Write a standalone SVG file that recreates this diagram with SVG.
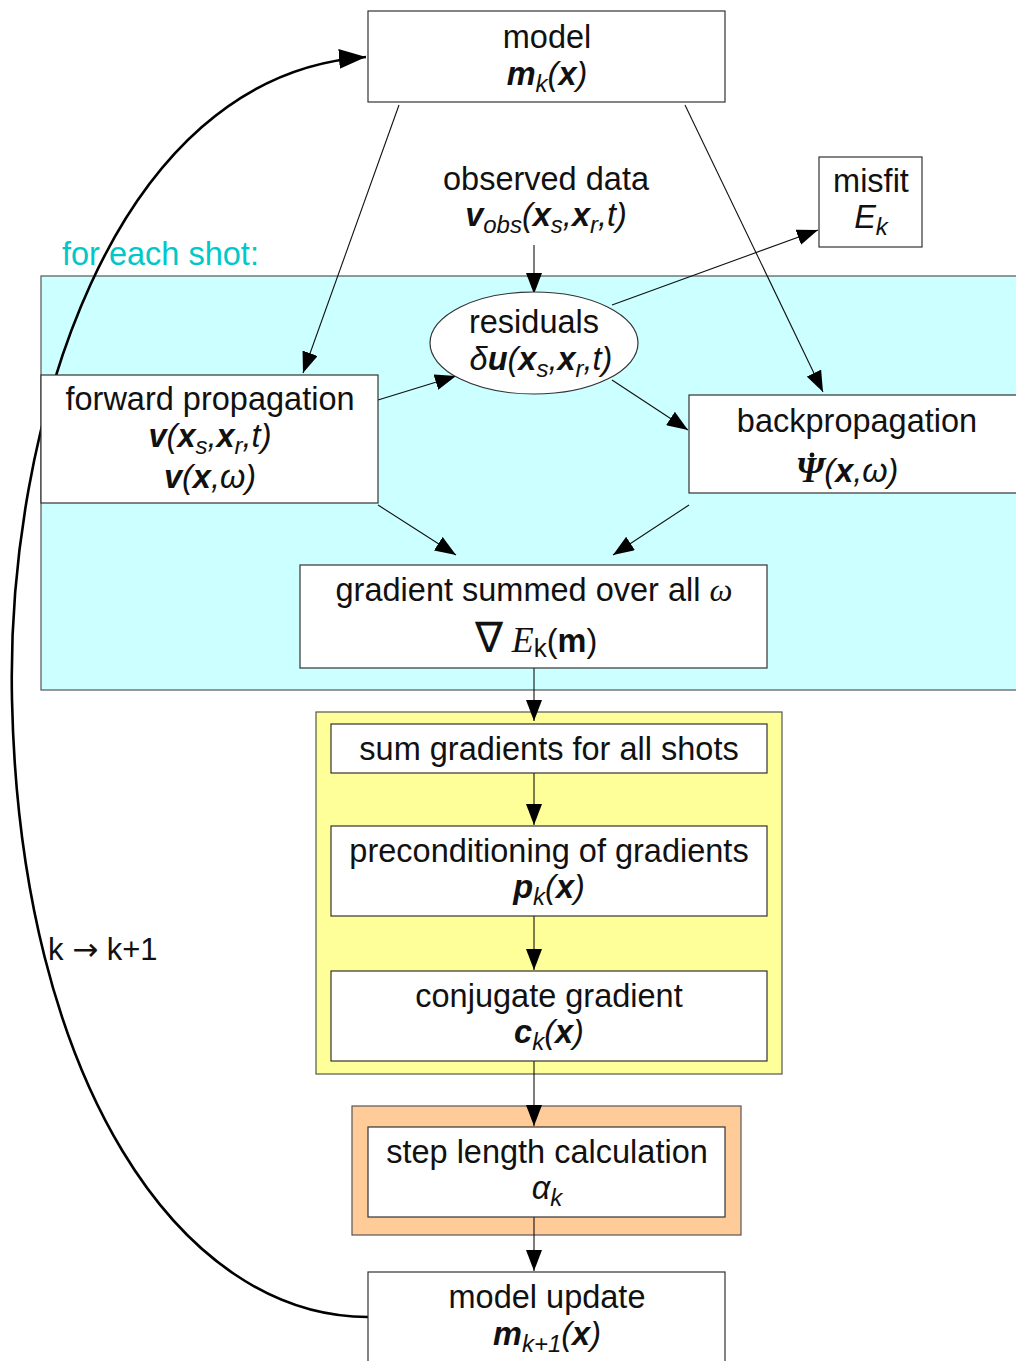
<svg xmlns="http://www.w3.org/2000/svg" width="1016" height="1361" viewBox="0 0 1016 1361">
<style>
.t{font-family:"Liberation Sans",Arial,sans-serif;font-size:32.5px;fill:#111;text-anchor:middle}
.bi{font-weight:bold;font-style:italic}
.i{font-style:italic}
.sub{font-size:24px;font-style:italic}
.box{fill:#fff;stroke:#333;stroke-width:1.2}
.c{fill:none;stroke:#111;stroke-width:1.1}
.serif{font-family:"Liberation Serif","Times New Roman",serif}
</style>
<defs>
<marker id="ah" markerUnits="userSpaceOnUse" markerWidth="22" markerHeight="16" refX="21" refY="8" orient="auto"><path d="M0,0 L21,8 L0,16 z" fill="#000"/></marker>
<marker id="ahb" markerUnits="userSpaceOnUse" markerWidth="28" markerHeight="20" refX="27" refY="10" orient="auto"><path d="M0,0 L27,10 L0,20 z" fill="#000"/></marker>
</defs>
<rect width="1016" height="1361" fill="#fff"/>
<g id="shot-region">
<rect x="41" y="276" width="985" height="414" fill="#ccffff" stroke="#555" stroke-width="1.2"/>
</g>
<g id="iteration-region">
<rect x="316" y="712" width="466" height="362" fill="#ffff99" stroke="#555" stroke-width="1.2"/>
</g>
<g id="step-region">
<rect x="352" y="1106" width="389" height="129" fill="#ffcc99" stroke="#555" stroke-width="1.2"/>
</g>
<text x="62" y="265" style="font-family:'Liberation Sans',Arial,sans-serif;font-size:32.5px;fill:#00c8c8">for each shot:</text>
<g id="connectors">
<path class="c" d="M399,105 L303,373" marker-end="url(#ah)"/>
<path class="c" d="M685,105 L823,392" marker-end="url(#ah)"/>
<path class="c" d="M534,245 L534,294" marker-end="url(#ah)"/>
<path class="c" d="M612,305 L818,230" marker-end="url(#ah)"/>
<path class="c" d="M378,400 L456,376" marker-end="url(#ah)"/>
<path class="c" d="M612,380 L688,430" marker-end="url(#ah)"/>
<path class="c" d="M378,505 L456,555" marker-end="url(#ah)"/>
<path class="c" d="M689,505 L613,555" marker-end="url(#ah)"/>
<path class="c" d="M534,668 L534,721" marker-end="url(#ah)"/>
<path class="c" d="M534,773 L534,825" marker-end="url(#ah)"/>
<path class="c" d="M534,916 L534,970" marker-end="url(#ah)"/>
<path class="c" d="M534,1061 L534,1126" marker-end="url(#ah)"/>
<path class="c" d="M534,1217 L534,1271" marker-end="url(#ah)"/>
<path d="M368,1317 C180,1317 20,1080 12,700 C6,430 110,75 366,57" fill="none" stroke="#000" stroke-width="2.6" marker-end="url(#ahb)"/>
</g>
<text class="t" x="48" y="960" style="text-anchor:start;font-size:31px">k <tspan style="font-family:'DejaVu Sans',sans-serif;font-size:31px">→</tspan> k+1</text>
<g id="model">
<rect class="box" x="368" y="11" width="357" height="91"/>
<text class="t" x="547" y="48">model</text>
<text class="t" x="547" y="85"><tspan class="bi">m</tspan><tspan class="sub" dy="7">k</tspan><tspan class="i" dy="-7">(</tspan><tspan class="bi">x</tspan><tspan class="i">)</tspan></text>
</g>
<g id="observed">
<text class="t" x="546" y="190">observed data</text>
<text class="t" x="546" y="226"><tspan class="bi">v</tspan><tspan class="sub" dy="7">obs</tspan><tspan class="i" dy="-7">(</tspan><tspan class="bi">x</tspan><tspan class="sub" dy="7">s</tspan><tspan class="i" dy="-7">,</tspan><tspan class="bi">x</tspan><tspan class="sub" dy="7">r</tspan><tspan class="i" dy="-7">,t)</tspan></text>
</g>
<g id="misfit">
<rect class="box" x="819" y="157" width="103" height="90"/>
<text class="t" x="871" y="192">misfit</text>
<text class="t" x="871" y="228"><tspan class="i">E</tspan><tspan class="sub" dy="7">k</tspan></text>
</g>
<g id="residuals">
<ellipse cx="534" cy="343" rx="104" ry="51" fill="#fff" stroke="#333" stroke-width="1.2"/>
<text class="t" x="534" y="333">residuals</text>
<text class="t" x="541" y="370"><tspan class="i">δ</tspan><tspan class="bi">u</tspan><tspan class="i">(</tspan><tspan class="bi">x</tspan><tspan class="sub" dy="7">s</tspan><tspan class="i" dy="-7">,</tspan><tspan class="bi">x</tspan><tspan class="sub" dy="7">r</tspan><tspan class="i" dy="-7">,t)</tspan></text>
</g>
<g id="forward">
<rect class="box" x="41" y="375" width="337" height="128"/>
<text class="t" x="210" y="410">forward propagation</text>
<text class="t" x="210" y="447"><tspan class="bi">v</tspan><tspan class="i">(</tspan><tspan class="bi">x</tspan><tspan class="sub" dy="7">s</tspan><tspan class="i" dy="-7">,</tspan><tspan class="bi">x</tspan><tspan class="sub" dy="7">r</tspan><tspan class="i" dy="-7">,t)</tspan></text>
<text class="t" x="210" y="488"><tspan class="bi">v</tspan><tspan class="i">(</tspan><tspan class="bi">x</tspan><tspan class="i">,ω)</tspan></text>
</g>
<g id="backprop">
<rect class="box" x="689" y="395" width="340" height="98"/>
<text class="t" x="857" y="432">backpropagation</text>
<text class="t" x="847" y="482"><tspan class="serif bi" style="font-size:36px">Ψ</tspan><tspan class="i">(</tspan><tspan class="bi">x</tspan><tspan class="i">,ω)</tspan></text>
<circle cx="812" cy="455" r="2.4" fill="#111"/>
</g>
<g id="gradient">
<rect class="box" x="300" y="565" width="467" height="103"/>
<text class="t" x="534" y="601">gradient summed over all <tspan class="serif i">ω</tspan></text>
<text class="t" x="536" y="652"><tspan class="serif" style="font-size:42px">∇</tspan><tspan class="serif i" style="font-size:36px"> E</tspan><tspan style="font-size:26px" dy="5">k</tspan><tspan dy="-5">(</tspan><tspan style="font-weight:bold">m</tspan><tspan>)</tspan></text>
</g>
<g id="sum">
<rect class="box" x="331" y="724" width="436" height="49"/>
<text class="t" x="549" y="760">sum gradients for all shots</text>
</g>
<g id="precond">
<rect class="box" x="331" y="826" width="436" height="90"/>
<text class="t" x="549" y="862">preconditioning of gradients</text>
<text class="t" x="549" y="898"><tspan class="bi">p</tspan><tspan class="sub" dy="7">k</tspan><tspan class="i" dy="-7">(</tspan><tspan class="bi">x</tspan><tspan class="i">)</tspan></text>
</g>
<g id="conjugate">
<rect class="box" x="331" y="971" width="436" height="90"/>
<text class="t" x="549" y="1007">conjugate gradient</text>
<text class="t" x="549" y="1043"><tspan class="bi">c</tspan><tspan class="sub" dy="7">k</tspan><tspan class="i" dy="-7">(</tspan><tspan class="bi">x</tspan><tspan class="i">)</tspan></text>
</g>
<g id="steplength">
<rect class="box" x="368" y="1127" width="357" height="90"/>
<text class="t" x="547" y="1163">step length calculation</text>
<text class="t" x="547" y="1199"><tspan class="i">α</tspan><tspan class="sub" dy="7">k</tspan></text>
</g>
<g id="update">
<rect class="box" x="368" y="1272" width="357" height="100"/>
<text class="t" x="547" y="1308">model update</text>
<text class="t" x="547" y="1345"><tspan class="bi">m</tspan><tspan class="sub" dy="7">k+1</tspan><tspan class="i" dy="-7">(</tspan><tspan class="bi">x</tspan><tspan class="i">)</tspan></text>
</g>
</svg>
